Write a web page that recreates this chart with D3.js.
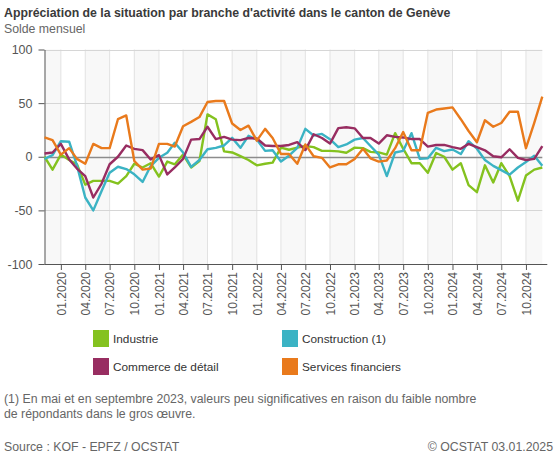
<!DOCTYPE html>
<html><head><meta charset="utf-8">
<script src="https://cdn.jsdelivr.net/npm/d3@7"></script>
<style>
body{margin:0;background:#fff}
svg{display:block;font-family:"Liberation Sans",Arial,sans-serif}
</style>
</head><body><svg id="c" width="557" height="456"></svg>
<script>
const seriesNames = ["Industrie","Construction (1)","Commerce de détail","Services financiers"];
const seriesColors = ["#84c21f","#3bb3c4","#982d61","#e97a1c"];
const firstMonth = new Date(2019,10,1);
const lastMonth = new Date(2024,11,1);
const tickLabels = ["01.2020","04.2020","07.2020","10.2020","01.2021","04.2021","07.2021","10.2021","01.2022","04.2022","07.2022","10.2022","01.2023","04.2023","07.2023","10.2023","01.2024","04.2024","07.2024","10.2024"];
const yTicks = [100,50,0,-50,-100];

const industrie = [0,-12,2,-3,-7,-26,-22.5,-22.5,-22.5,-25,
  -18,-6.5,-10,-6,-18.5,-4.5,-7,2,-10,-4,
  39.5,35,5,4,0.5,-3,-8,-6.5,-5.5,8.5,
  6.5,8.5,10,9,5.5,5.5,5,3.7,8.5,8,
  4.5,4,2,22,7.5,-6,-6,-15,3.5,0,
  -12,-6,-26.5,-33,-8,-24,-6,-18,-41,-17.5,
  -12,-10];
const construction = [-2,1.5,14.5,14,-8,-38,-50,-32,-15,-9.3,
  -11.5,-16.4,-23.5,-8.7,-1,3.7,13,4,-9.5,-3,
  7,8.3,10.5,17.6,8.3,19.5,16,5.5,6,-4.5,
  1,8.3,26,19.8,21.3,16.4,9,11.5,16,17.5,
  10,2,-18,4,5.5,22,-2,-1.5,8.3,5.2,
  6.8,2.5,14.5,7.5,-3,-8.5,-12.5,-16.7,-10,-5,
  1,-8.5];
const commerce = [3,4,12,-2.5,-11,-18,-38,-25,-7,0,
  10.5,7.4,6.2,-2.5,1.5,-16.5,-10,-2,16,16.5,
  28,16.5,18.5,16,15.5,17.5,17,10.5,10,10,
  11,13.6,6.2,21,17.5,12.3,26.7,27.5,26.5,17.5,
  17.5,12.3,20,18.5,18,16.5,16.5,9.5,11,11,
  9,7.4,12,9,6,0.5,-0.5,7,-1,-3,
  -2,10];
const services = [18,15.5,2,8,-2,-6.5,12,8,8,35,
  38.5,-4,-12,-11,12,12,9.5,28.5,32.5,37,
  51,52,52,31,25,29,15,26,17.5,2.5,
  2.5,-6.5,11.5,0.5,-1,-10,-7,-7,-2,7.5,
  -1.5,-4.5,-3.5,8,23,6,6,41,44,45,
  46,35,24,13.5,34,28,31.5,42,42,8,
  31.5,56];
const seriesValues = [industrie, construction, commerce, services];

const months = d3.timeMonth.range(firstMonth, d3.timeMonth.offset(lastMonth,1));
const parseTick = d3.timeParse("%m.%Y");
const tickDates = tickLabels.map(parseTick);

const svg = d3.select("#c");
const pL = 44.5, pR = 542.3, pT = 49.5, pB = 264;
const x = d3.scaleTime().domain([firstMonth, lastMonth]).range([pL, pR]);
const y = d3.scaleLinear().domain([-100,100]).range([pB, pT]);

// alternating quarter bands (Q2 and Q4 shaded)
const bandStarts = d3.timeMonth.range(new Date(2019,9,1), d3.timeMonth.offset(lastMonth,1), 3)
  .filter(d => d.getMonth() === 3 || d.getMonth() === 9);
svg.append("g").selectAll("rect").data(bandStarts).join("rect")
  .attr("x", d => Math.max(pL, x(d)))
  .attr("width", d => Math.min(pR, x(d3.timeMonth.offset(d,3))) - Math.max(pL, x(d)))
  .attr("y", pT).attr("height", pB - pT)
  .attr("fill", "#f8f8f8");

// vertical grid
svg.append("g").selectAll("line").data(tickDates).join("line")
  .attr("x1", d => x(d)).attr("x2", d => x(d))
  .attr("y1", pT).attr("y2", pB)
  .attr("stroke", "#e2e2e2").attr("stroke-width", 1);

// horizontal grid
svg.append("g").selectAll("line").data(yTicks).join("line")
  .attr("x1", pL).attr("x2", pR)
  .attr("y1", d => Math.round(y(d)) + 0.5).attr("y2", d => Math.round(y(d)) + 0.5)
  .attr("stroke", d => d === 0 ? "#8c8c8c" : "#d6d6d6").attr("stroke-width", d => d === 0 ? 1.3 : 1);

// axes
const yAxis = svg.append("g").attr("transform", `translate(${pL},0)`)
  .call(d3.axisLeft(y).tickValues(yTicks).tickFormat(d => String(d)).tickSize(6).tickPadding(6).tickSizeOuter(0));
yAxis.select(".domain").attr("stroke", "#555");
yAxis.selectAll(".tick line").attr("stroke", "#555");
yAxis.selectAll("text").attr("fill", "#555").style("font-size", "12.5px");

const xAxis = svg.append("g").attr("transform", `translate(0,${pB})`)
  .call(d3.axisBottom(x).tickValues(tickDates).tickFormat(d3.timeFormat("%m.%Y")).tickSize(6).tickSizeOuter(0));
xAxis.select(".domain").attr("d", `M${pL},0.5H${pR + 5}`).attr("stroke", "#555");
xAxis.selectAll(".tick line").attr("stroke", "#555");
xAxis.selectAll("text").attr("fill", "#555").style("font-size", "12px")
  .attr("transform", "rotate(-90)").attr("text-anchor", "end")
  .attr("x", -8).attr("y", 0).attr("dy", "0.35em");

// lines
const line = d3.line().x((d,i) => x(months[i])).y(d => y(d));
svg.append("g").selectAll("path").data(seriesValues).join("path")
  .attr("d", d => line(d))
  .attr("fill", "none")
  .attr("stroke", (d,i) => seriesColors[i])
  .attr("stroke-width", 2.4)
  .attr("stroke-linejoin", "round");

// titles
svg.append("text").attr("x", 4).attr("y", 17).attr("fill", "#3a3a3a")
  .style("font-size", "12.3px").style("font-weight", "bold")
  .text("Appréciation de la situation par branche d'activité dans le canton de Genève");
svg.append("text").attr("x", 4).attr("y", 33).attr("fill", "#666")
  .style("font-size", "12.3px").text("Solde mensuel");

// legend
const legPos = [[93,330],[282,330],[93,358],[282,358]];
const leg = svg.append("g").selectAll("g").data(seriesNames).join("g")
  .attr("transform", (d,i) => `translate(${legPos[i][0]},${legPos[i][1]})`);
leg.append("rect").attr("width", 16).attr("height", 17).attr("fill", (d,i) => seriesColors[i]);
leg.append("text").attr("x", 20).attr("y", 13).attr("fill", "#333")
  .style("font-size", "11.8px").text(d => d);

// footnote & source
const foot = svg.append("g").attr("fill", "#666").style("font-size", "12.3px");
foot.append("text").attr("x", 4).attr("y", 403)
  .text("(1) En mai et en septembre 2023, valeurs peu significatives en raison du faible nombre");
foot.append("text").attr("x", 4).attr("y", 418)
  .text("de répondants dans le gros œuvre.");
foot.append("text").attr("x", 4).attr("y", 450.5).text("Source : KOF - EPFZ / OCSTAT");
foot.append("text").attr("x", 553).attr("y", 450.5).attr("text-anchor", "end").text("© OCSTAT 03.01.2025");
</script>
</body></html>
